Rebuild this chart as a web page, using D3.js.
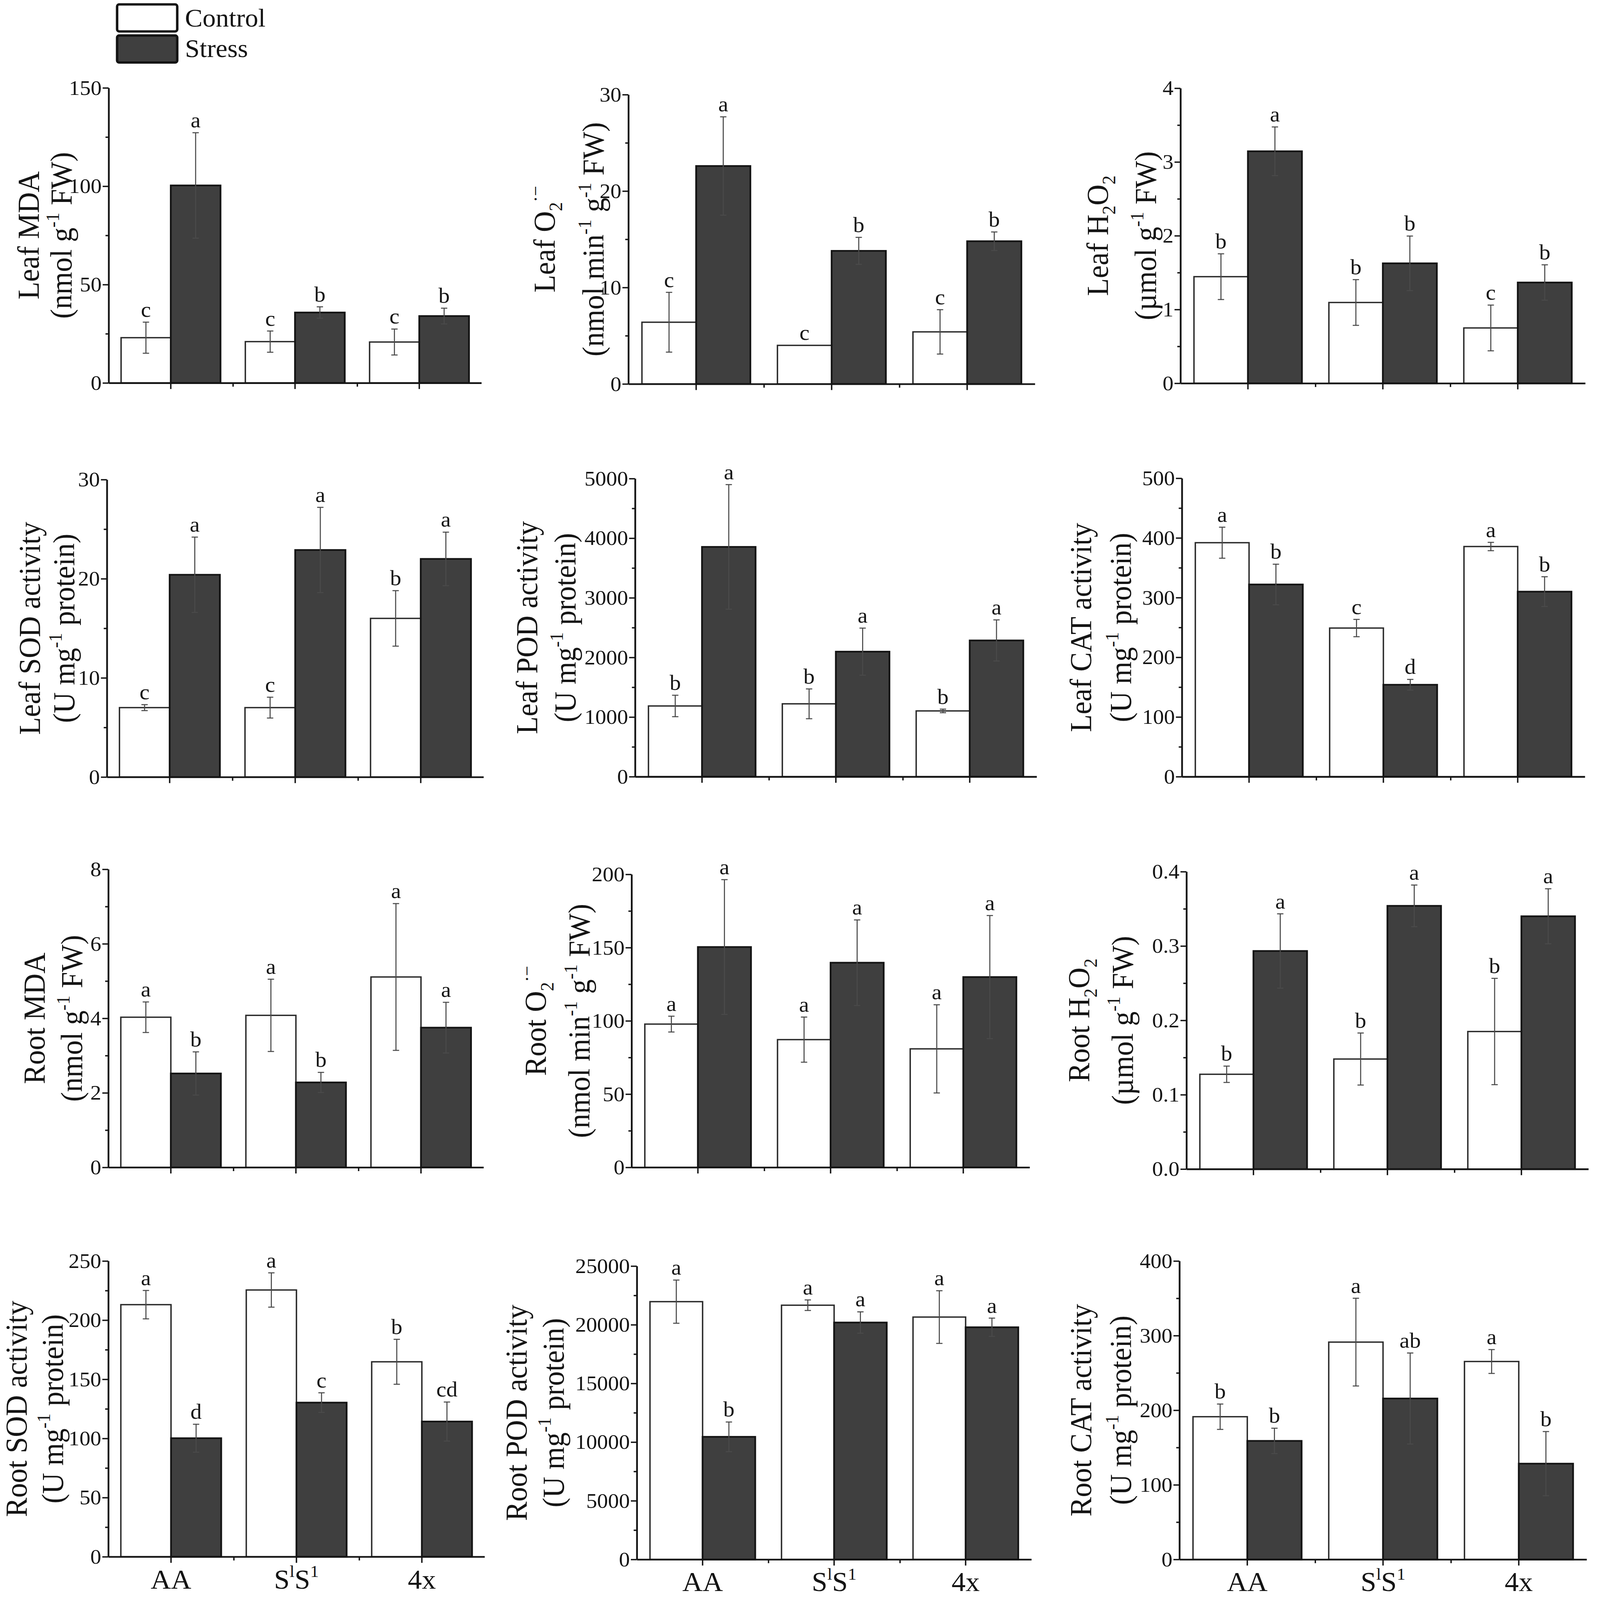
<!DOCTYPE html>
<html><head><meta charset="utf-8">
<script src="https://cdn.jsdelivr.net/npm/d3@7"></script>
<style>html,body{margin:0;padding:0;background:#fff;overflow:hidden;width:100%;height:100%}
#chart{display:block;width:100vw;height:100vh}</style>
</head><body>
<svg id="chart" viewBox="0 0 4550 4734" preserveAspectRatio="none" xmlns="http://www.w3.org/2000/svg"></svg>
<script>
// ---------------- DATA ----------------
const groups = ["AA", "SlS1", "4x"];
const series = ["Control", "Stress"];
const panelNames = ["Leaf MDA","Leaf O2","Leaf H2O2","Leaf SOD","Leaf POD","Leaf CAT",
                    "Root MDA","Root O2","Root H2O2","Root SOD","Root POD","Root CAT"];
const controlMean = [
  [23.0, 21.0, 20.8], [6.4, 4.0, 5.4], [1.445, 1.095, 0.75],
  [7.0, 7.0, 16.0], [1186, 1222, 1103], [392, 249, 385.6],
  [4.03, 4.08, 5.11], [97.8, 87.2, 80.9], [0.1275, 0.148, 0.185],
  [213.1, 225.5, 164.8], [21968, 21665, 20655], [191.3, 291.3, 265.3]
];
const controlErr = [
  [7.9, 5.4, 6.6], [3.1, 0, 2.3], [0.31, 0.31, 0.31],
  [0.3, 1.05, 2.8], [180, 250, 30], [26, 14.5, 7],
  [0.41, 0.97, 1.97], [5.4, 15.4, 30.1], [0.011, 0.035, 0.0715],
  [12, 14.5, 19], [1840, 450, 2245], [17, 58.8, 16]
];
const stressMean = [
  [100.4, 35.8, 34.0], [22.6, 13.8, 14.8], [3.145, 1.626, 1.366],
  [20.4, 22.9, 22.0], [3854, 2097, 2285], [322, 154, 310],
  [2.52, 2.28, 3.75], [150.4, 139.7, 129.9], [0.2933, 0.354, 0.34],
  [100.2, 130.3, 114.3], [10449, 20190, 19786], [158.9, 215.7, 128.4]
];
const stressErr = [
  [26.8, 2.9, 4.0], [5.1, 1.4, 0.96], [0.33, 0.37, 0.24],
  [3.8, 4.3, 2.7], [1045, 395, 345], [34, 9, 25],
  [0.58, 0.27, 0.68], [46, 29.2, 42], [0.05, 0.028, 0.037],
  [11.8, 8.3, 16.5], [1265, 910, 780], [17, 61, 43]
];
const controlLetters = [
  ["c","c","c"], ["c","c","c"], ["b","b","c"],
  ["c","c","b"], ["b","b","b"], ["a","c","a"],
  ["a","a","a"], ["a","a","a"], ["b","b","b"],
  ["a","a","b"], ["a","a","a"], ["b","a","a"]
];
const stressLetters = [
  ["a","b","b"], ["a","b","b"], ["a","b","b"],
  ["a","a","a"], ["a","a","a"], ["b","d","b"],
  ["b","b","a"], ["a","a","a"], ["a","a","a"],
  ["d","c","cd"], ["b","a","a"], ["b","ab","b"]
];
const yMax  = [150, 30, 4, 30, 5000, 500, 8, 200, 0.4, 250, 25000, 400];
const yStep = [50, 10, 1, 10, 1000, 100, 2, 50, 0.1, 50, 5000, 100];
const yFormat = ["d","d","d","d","d","d","d","d",".1f","d","d","d"];
// rich text: [text, "sub"|"sup"|undefined]
const titleLine1 = [
  [["Leaf MDA"]],
  [["Leaf O"],["2","sub"],["·−","sup"]],
  [["Leaf H"],["2","sub"],["O"],["2","sub"]],
  [["Leaf SOD activity"]],
  [["Leaf POD activity"]],
  [["Leaf CAT activity"]],
  [["Root MDA"]],
  [["Root O"],["2","sub"],["·−","sup"]],
  [["Root H"],["2","sub"],["O"],["2","sub"]],
  [["Root SOD activity"]],
  [["Root POD activity"]],
  [["Root CAT activity"]]
];
const unitG = [["(nmol g"],["-1","sup"],[" FW)"]];
const unitMin = [["(nmol min"],["-1","sup"],[" g"],["-1","sup"],[" FW)"]];
const unitUmol = [["(µmol g"],["-1","sup"],[" FW)"]];
const unitProt = [["(U mg"],["-1","sup"],[" protein)"]];
const titleLine2 = [unitG, unitMin, unitUmol, unitProt, unitProt, unitProt,
                    unitG, unitMin, unitUmol, unitProt, unitProt, unitProt];
const groupLabels = [[["AA"]], [["S"],["l","sup"],["S"],["1","sup"]], [["4x"]]];

// ---------------- LAYOUT (positions, not data) ----------------
const layout = [
  {x0:309,  x1:1369, yTop:260,  yZero:1133, t1:227, t2:134},
  {x0:1787, x1:2943, yTop:280,  yZero:1136, t1:238, t2:99},
  {x0:3357, x1:4508, yTop:261,  yZero:1134, t1:235, t2:98},
  {x0:304,  x1:1375, yTop:1419, yZero:2299, t1:219, t2:121},
  {x0:1806, x1:2948, yTop:1416, yZero:2298, t1:307, t2:198},
  {x0:3361, x1:4507, yTop:1415, yZero:2298, t1:287, t2:173},
  {x0:308,  x1:1375, yTop:2572, yZero:3454, t1:210, t2:103},
  {x0:1796, x1:2928, yTop:2587, yZero:3454, t1:272, t2:148},
  {x0:3374, x1:4517, yTop:2579, yZero:3459, t1:305, t2:181},
  {x0:308,  x1:1378, yTop:3731, yZero:4606, t1:261, t2:158},
  {x0:1811, x1:2933, yTop:3746, yZero:4614, t1:342, t2:237},
  {x0:3354, x1:4512, yTop:3731, yZero:4614, t1:280, t2:166}
];
const FONT = "'Liberation Serif','Times New Roman',Times,serif";
const INK = "#141414";
const DARK = "#3f3f3f";
const TITLE_FS = 86, TICK_FS = 62, LETTER_FS = 64, LEGEND_FS = 75, XLAB_FS = 80;
const XLAB_BASE = 94;

const svg = d3.select("#chart");
svg.append("rect").attr("width",4550).attr("height",4734).attr("fill","#fff");

function rich(textSel, segs, fs) {
  let off = 0;
  segs.forEach(s => {
    const kind = s[1];
    const target = kind === "sub" ? 0.25*fs : kind === "sup" ? -0.42*fs : 0;
    const ts = textSel.append("tspan")
      .attr("font-size", kind ? fs*0.62 : fs)
      .text(s[0]);
    if (target - off !== 0) ts.attr("dy", target - off);
    off = target;
  });
}

// ---------------- LEGEND ----------------
const leg = svg.append("g");
series.forEach((s, k) => {
  leg.append("rect").attr("x",333).attr("y",13 + k*92).attr("width",171).attr("height",80)
    .attr("rx",6).attr("fill", k===0 ? "#fff" : DARK).attr("stroke",INK).attr("stroke-width",7);
  leg.append("text").attr("x",526).attr("y",79 + k*90).attr("font-family",FONT)
    .attr("font-size",LEGEND_FS).attr("fill",INK).text(s);
});

// ---------------- PANELS ----------------
layout.forEach((L, i) => {
  const g = svg.append("g");
  const x = d3.scaleBand().domain(groups).range([L.x0, L.x1]);
  const y = d3.scaleLinear().domain([0, yMax[i]]).range([L.yZero, L.yTop]);
  const nMaj = Math.round(yMax[i]/yStep[i]);
  const major = d3.range(nMaj+1).map(k => k*yStep[i]);
  const minor = d3.range(nMaj).map(k => (k+0.5)*yStep[i]);
  const bw = x.bandwidth()*0.4;

  const rows = groups.map((gr, j) => ({gr, j}));
  [0,1].forEach(s => {
    const mean = s===0 ? controlMean[i] : stressMean[i];
    const err  = s===0 ? controlErr[i] : stressErr[i];
    const lets = s===0 ? controlLetters[i] : stressLetters[i];
    const cx = d => x(d.gr) + x.bandwidth()/2 + (s===0 ? -bw/2 : bw/2);
    g.selectAll(null).data(rows).join("rect")
      .attr("x", d => cx(d) - bw/2)
      .attr("y", d => y(mean[d.j]))
      .attr("width", bw)
      .attr("height", d => y(0) - y(mean[d.j]))
      .attr("fill", s===0 ? "#fff" : DARK)
      .attr("stroke", s===0 ? "#2a2a2a" : INK)
      .attr("stroke-width", s===0 ? 4 : 5);
    const eb = g.selectAll(null).data(rows.filter(d => err[d.j] > 0)).join("g")
      .attr("stroke", "#4a4a4a").attr("stroke-width", 3);
    eb.append("line").attr("x1", cx).attr("x2", cx)
      .attr("y1", d => y(mean[d.j] + err[d.j])).attr("y2", d => y(mean[d.j] - err[d.j]));
    eb.append("line").attr("x1", d => cx(d)-9).attr("x2", d => cx(d)+9)
      .attr("y1", d => y(mean[d.j] + err[d.j])).attr("y2", d => y(mean[d.j] + err[d.j]));
    eb.append("line").attr("x1", d => cx(d)-9).attr("x2", d => cx(d)+9)
      .attr("y1", d => y(mean[d.j] - err[d.j])).attr("y2", d => y(mean[d.j] - err[d.j]));
    g.selectAll(null).data(rows).join("text")
      .attr("x", cx)
      .attr("y", d => y(mean[d.j] + err[d.j]) - 16)
      .attr("text-anchor","middle").attr("font-family",FONT)
      .attr("font-size",LETTER_FS).attr("fill",INK)
      .text(d => lets[d.j]);
  });

  g.append("g").attr("transform",`translate(${L.x0},0)`)
    .call(d3.axisLeft(y).tickValues(minor).tickSize(9).tickFormat("").tickSizeOuter(0))
    .call(a => a.select(".domain").remove())
    .call(a => a.selectAll("line").attr("stroke",INK).attr("stroke-width",4));
  g.append("g").attr("transform",`translate(${L.x0},0)`)
    .call(d3.axisLeft(y).tickValues(major).tickSize(17).tickPadding(3)
      .tickFormat(d3.format(yFormat[i])).tickSizeOuter(0))
    .call(a => a.select(".domain").attr("stroke",INK).attr("stroke-width",5))
    .call(a => a.selectAll("line").attr("stroke",INK).attr("stroke-width",4))
    .call(a => a.selectAll("text").attr("font-family",FONT).attr("font-size",TICK_FS).attr("fill",INK));

  const last = i >= 9;
  const xa = g.append("g").attr("transform",`translate(0,${L.yZero})`)
    .call(d3.axisBottom(x).tickSize(18).tickSizeOuter(0))
    .call(a => a.select(".domain").attr("stroke",INK).attr("stroke-width",5))
    .call(a => a.selectAll("line").attr("stroke",INK).attr("stroke-width",4));
  xa.selectAll("text").each(function(d, j) {
    const t = d3.select(this);
    t.text(null);
    if (last) {
      t.attr("dy", null).attr("y", XLAB_BASE)
        .attr("font-family",FONT).attr("fill",INK).attr("font-size",XLAB_FS);
      rich(t, groupLabels[j], XLAB_FS);
    }
  });
  const xb = d3.scaleLinear().domain([0, groups.length]).range([L.x0, L.x1]);
  g.append("g").attr("transform",`translate(0,${L.yZero})`)
    .call(d3.axisBottom(xb).tickValues([1,2]).tickSize(11).tickFormat(""))
    .call(a => a.select(".domain").remove())
    .call(a => a.selectAll("line").attr("stroke",INK).attr("stroke-width",4));

  const cy = (L.yTop + L.yZero)/2;
  [[titleLine1[i], L.t1], [titleLine2[i], L.t2]].forEach(([segs, off]) => {
    const t = g.append("text")
      .attr("transform",`translate(${L.x0 - off},${cy}) rotate(-90)`)
      .attr("y", 0.33*TITLE_FS)
      .attr("text-anchor","middle").attr("font-family",FONT)
      .attr("font-size",TITLE_FS).attr("fill",INK);
    rich(t, segs, TITLE_FS);
  });
});
</script>
</body></html>
